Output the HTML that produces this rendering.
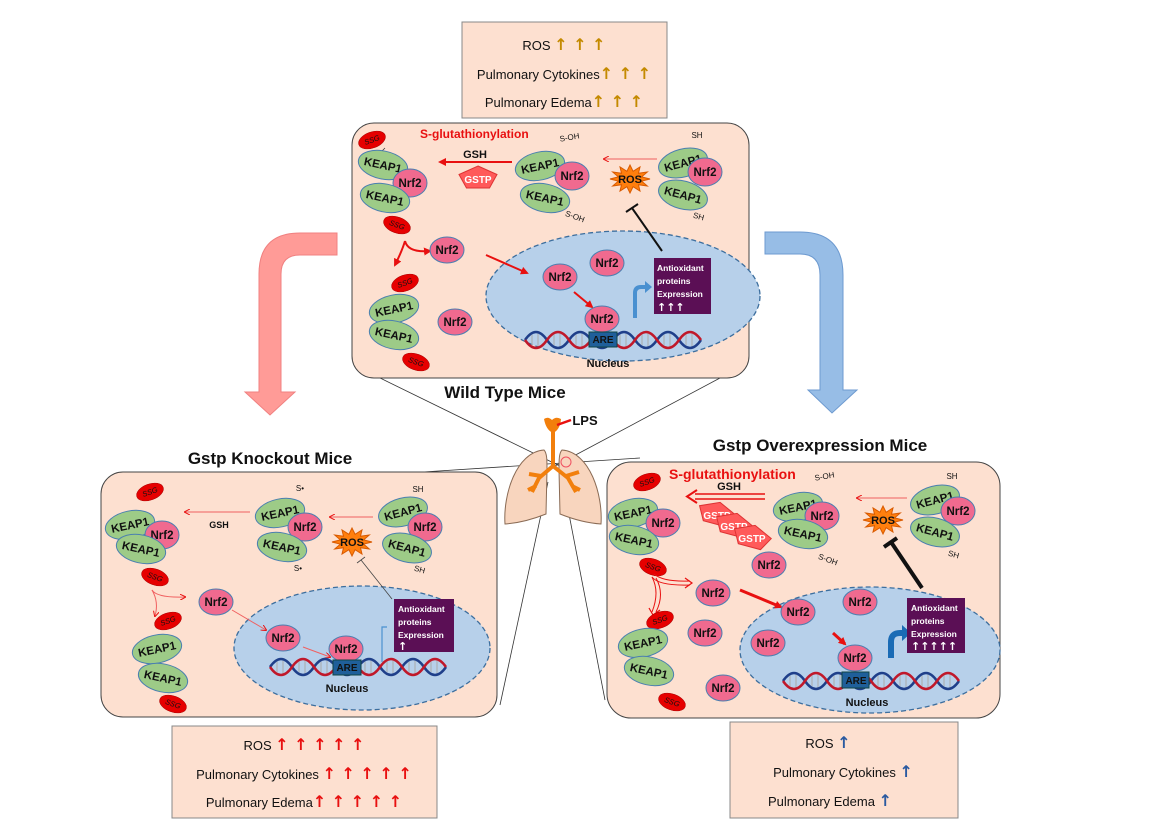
<!DOCTYPE html>
<html><head><meta charset="utf-8"><style>
html,body{margin:0;padding:0;background:#fff}
svg{display:block;font-family:"Liberation Sans",sans-serif}
.k{fill:#9dcb87;stroke:#4a7fb0;stroke-width:1}
.n{fill:#f06a8f;stroke:#4a7fb0;stroke-width:1}
.s{fill:#e60000;stroke:#a00;stroke-width:.5}
.kt{font-size:11.5px;font-weight:bold;fill:#111;text-anchor:middle}
.nt{font-size:11.5px;font-weight:bold;fill:#111;text-anchor:middle}
.st{font-size:7.5px;font-style:italic;fill:#111;text-anchor:middle}
.lbl{font-size:8px;fill:#111;text-anchor:middle}
.pan{fill:#fde0d0;stroke:#444;stroke-width:1}
.nuc{fill:#b7d0ea;stroke:#3c6e9e;stroke-width:1.3;stroke-dasharray:5 3}
.pt{font-size:8.5px;font-weight:bold;fill:#fff}
.pa{font-family:"DejaVu Sans",sans-serif;font-size:11px;font-weight:bold;fill:#fff}
.box{fill:#fde0d0;stroke:#888;stroke-width:1}
.bt{font-size:13px;fill:#111;text-anchor:middle}
.ua{font-family:"DejaVu Sans",sans-serif;font-size:16px;font-weight:bold}
.ttl{font-size:17px;font-weight:bold;fill:#111;text-anchor:middle}
</style></head><body>
<svg width="1165" height="837" viewBox="0 0 1165 837" xmlns="http://www.w3.org/2000/svg">
<defs>
<marker id="ar" markerWidth="8" markerHeight="8" refX="6" refY="4" orient="auto" markerUnits="userSpaceOnUse"><path d="M0,0 L8,4 L0,8Z" fill="#e81010"/></marker>
<marker id="ars" markerWidth="6" markerHeight="6" refX="5" refY="3" orient="auto" markerUnits="userSpaceOnUse"><path d="M0,0 L6,3 L0,6" fill="none" stroke="#e81010"/></marker>
<g id="star"><polygon points="20,0 11.6,2.1 17.3,7 8.5,5.7 10,12.1 3.1,7.7 0,14 -3.1,7.7 -10,12.1 -8.5,5.7 -17.3,7 -11.6,2.1 -20,0 -11.6,-2.1 -17.3,-7 -8.5,-5.7 -10,-12.1 -3.1,-7.7 0,-14 3.1,-7.7 10,-12.1 8.5,-5.7 17.3,-7 11.6,-2.1" fill="#ff7f0e" stroke="#d85a00"/></g>
<g id="pent"><polygon points="0,-12 19,-3.5 11.5,10 -11.5,10 -19,-3.5" fill="#ff5a5a" stroke="#d33"/></g>
<g id="dna">
<path d="M0,10 Q11,-6 22,10 T44,10 T66,10 T88,10 T110,10 T132,10 T154,10 T176,10" fill="none" stroke="#1f3f8a" stroke-width="2.5"/>
<path d="M0,10 Q11,26 22,10 T44,10 T66,10 T88,10 T110,10 T132,10 T154,10 T176,10" fill="none" stroke="#c0182a" stroke-width="2.5"/>
<path d="M7,5v10M13,4v12M29,5v10M35,4v12M51,5v10M57,4v12M73,5v10M79,4v12M95,5v10M101,4v12M117,5v10M123,4v12M139,5v10M145,4v12M161,5v10M167,4v12" stroke="#aaa" stroke-width="1"/>
</g>
</defs>

<!-- big arrows -->
<path d="M337,233 L300,233 Q259,233 259,274 L259,392 L245,392 L270,415 L295,392 L281,392 L281,274 Q281,255 300,255 L337,255Z" fill="#ff9b97" stroke="#f08080"/>
<path d="M765,232 L800,232 Q843,232 843,275 L843,390 L857,390 L832,413 L808,390 L820,390 L820,275 Q820,254 800,254 L765,254Z" fill="#97bde6" stroke="#6d9ad0"/>

<!-- connecting lines -->
<g stroke="#333" stroke-width="0.8" fill="none">
<line x1="380" y1="378" x2="568" y2="470"/>
<line x1="720" y1="378" x2="553" y2="467"/>
<line x1="423" y1="472" x2="640" y2="458"/>
<line x1="548" y1="482" x2="500" y2="705"/>
<line x1="562" y1="478" x2="605" y2="700"/>
</g>

<!-- top summary -->
<rect class="box" x="462" y="22" width="205" height="96"/>
<text class="bt" x="564" y="50">ROS <tspan class="ua" fill="#c48a00">↑ ↑ ↑</tspan></text>
<text class="bt" x="564" y="79">Pulmonary Cytokines<tspan class="ua" fill="#c48a00">↑ ↑ ↑</tspan></text>
<text class="bt" x="564" y="107">Pulmonary Edema<tspan class="ua" fill="#c48a00">↑ ↑ ↑</tspan></text>

<!-- TOP PANEL -->
<g transform="translate(352,123)">
<rect class="pan" x="0" y="0" width="397" height="255" rx="22"/>
<text x="68" y="15" font-size="12" font-weight="bold" fill="#e81010">S-glutathionylation</text>
<line x1="33" y1="25" x2="28" y2="30" stroke="#333" stroke-width=".7"/>
<g transform="translate(20,17) rotate(-20)"><ellipse class="s" rx="14" ry="8"/><text class="st" dy="2.5">SSG</text></g>
<g transform="translate(31,42) rotate(12)"><ellipse class="k" rx="25" ry="14"/><text class="kt" dy="4">KEAP1</text></g>
<g transform="translate(58,60)"><ellipse class="n" rx="17" ry="14"/><text class="nt" dy="4">Nrf2</text></g>
<g transform="translate(33,75) rotate(12)"><ellipse class="k" rx="25" ry="14"/><text class="kt" dy="4">KEAP1</text></g>
<g transform="translate(45,102) rotate(20)"><ellipse class="s" rx="14" ry="8"/><text class="st" dy="2.5">SSG</text></g>
<text x="123" y="35" font-size="11" font-weight="bold" fill="#111" text-anchor="middle">GSH</text>
<line x1="160" y1="39" x2="88" y2="39" stroke="#e81010" stroke-width="2" marker-end="url(#ar)"/>
<use href="#pent" transform="translate(126,55)"/>
<text x="126" y="60" font-size="10" font-weight="bold" fill="#fff" text-anchor="middle">GSTP</text>
<g transform="translate(188,43) rotate(-12)"><ellipse class="k" rx="25" ry="14"/><text class="kt" dy="4">KEAP1</text></g>
<g transform="translate(220,53)"><ellipse class="n" rx="17" ry="14"/><text class="nt" dy="4">Nrf2</text></g>
<g transform="translate(193,75) rotate(12)"><ellipse class="k" rx="25" ry="14"/><text class="kt" dy="4">KEAP1</text></g>
<text class="lbl" x="218" y="17" transform="rotate(-10 218 17)">S-OH</text>
<text class="lbl" x="222" y="96" transform="rotate(20 222 96)">S-OH</text>
<line x1="305" y1="36" x2="252" y2="36" stroke="#f06060" stroke-width="1" marker-end="url(#ars)"/>
<use href="#star" transform="translate(278,56)"/>
<text x="278" y="60" font-size="11" font-weight="bold" fill="#111" text-anchor="middle">ROS</text>
<g transform="translate(331,40) rotate(-15)"><ellipse class="k" rx="25" ry="14"/><text class="kt" dy="4">KEAP1</text></g>
<g transform="translate(353,49)"><ellipse class="n" rx="17" ry="14"/><text class="nt" dy="4">Nrf2</text></g>
<g transform="translate(331,72) rotate(15)"><ellipse class="k" rx="25" ry="14"/><text class="kt" dy="4">KEAP1</text></g>
<text class="lbl" x="345" y="15">SH</text>
<text class="lbl" x="346" y="96" transform="rotate(15 346 96)">SH</text>
<path d="M53,118 Q56,130 78,128" fill="none" stroke="#e81010" stroke-width="2" marker-end="url(#ar)"/>
<path d="M53,118 Q50,128 43,142" fill="none" stroke="#e81010" stroke-width="2" marker-end="url(#ar)"/>
<g transform="translate(95,127)"><ellipse class="n" rx="17" ry="13"/><text class="nt" dy="4">Nrf2</text></g>
<g transform="translate(103,199)"><ellipse class="n" rx="17" ry="13"/><text class="nt" dy="4">Nrf2</text></g>
<g transform="translate(53,160) rotate(-20)"><ellipse class="s" rx="14" ry="8"/><text class="st" dy="2.5">SSG</text></g>
<g transform="translate(42,186) rotate(-12)"><ellipse class="k" rx="25" ry="14"/><text class="kt" dy="4">KEAP1</text></g>
<g transform="translate(42,212) rotate(12)"><ellipse class="k" rx="25" ry="14"/><text class="kt" dy="4">KEAP1</text></g>
<g transform="translate(64,239) rotate(20)"><ellipse class="s" rx="14" ry="8"/><text class="st" dy="2.5">SSG</text></g>
<ellipse class="nuc" cx="271" cy="173" rx="137" ry="65"/>
<path d="M310,128 L280,85" stroke="#111" stroke-width="2"/>
<path d="M274,89 L286,81" stroke="#111" stroke-width="2"/>
<line x1="134" y1="132" x2="175" y2="150" stroke="#e81010" stroke-width="2" marker-end="url(#ar)"/>
<line x1="222" y1="169" x2="240" y2="184" stroke="#e81010" stroke-width="2" marker-end="url(#ar)"/>
<g transform="translate(208,154)"><ellipse class="n" rx="17" ry="13"/><text class="nt" dy="4">Nrf2</text></g>
<g transform="translate(255,140)"><ellipse class="n" rx="17" ry="13"/><text class="nt" dy="4">Nrf2</text></g>
<use href="#dna" transform="translate(173,207)"/>
<g transform="translate(250,196)"><ellipse class="n" rx="17" ry="13"/><text class="nt" dy="4">Nrf2</text></g>
<rect x="237" y="209" width="28" height="15" fill="#1f5f9a" stroke="#144"/>
<text x="251" y="220" font-size="10" font-weight="bold" fill="#111" text-anchor="middle">ARE</text>
<text x="256" y="244" font-size="11" font-weight="bold" fill="#111" text-anchor="middle">Nucleus</text>
<path d="M283,195 L283,170 Q283,164 289,164 L293,164" fill="none" stroke="#4a90d0" stroke-width="4"/>
<path d="M293,158 L300,164 L293,170Z" fill="#4a90d0"/>
<rect x="302" y="135" width="57" height="56" fill="#5b0f55"/>
<text class="pt" x="305" y="148">Antioxidant</text>
<text class="pt" x="305" y="161">proteins</text>
<text class="pt" x="305" y="174">Expression</text>
<text class="pa" x="305" y="188">↑↑↑</text>
</g>

<text class="ttl" x="505" y="398">Wild Type Mice</text>

<!-- lung -->
<path d="M544,450 C516,452 503,495 505,524 C520,523 536,518 546,514 L547,470 C547,460 547,453 544,450Z" fill="#f8d5be" stroke="#8a6b55" stroke-width="1"/>
<path d="M562,450 C590,452 603,495 601,524 C586,523 570,518 560,514 L559,470 C559,460 559,453 562,450Z" fill="#f8d5be" stroke="#8a6b55" stroke-width="1"/>
<path d="M553,430 L553,466 L539,478 L532,492 M553,466 L568,478 L576,492 M541,476 L529,474 M566,476 L579,472 M536,486 L528,490 M572,486 L580,490" fill="none" stroke="#f27f0c" stroke-width="4" stroke-linejoin="round"/>
<path d="M544,419 Q546,430 553,433 Q560,430 561,419 Q556,416 552,420 Q548,416 544,419Z" fill="#f27f0c"/>
<circle cx="566" cy="462" r="5" fill="none" stroke="#f05060" stroke-width="1"/>
<line x1="571" y1="420" x2="557" y2="425" stroke="#e81010" stroke-width="2.5"/>
<text x="585" y="425" font-size="13" font-weight="bold" fill="#111" text-anchor="middle">LPS</text>

<!-- BOTTOM LEFT -->
<text class="ttl" x="270" y="464">Gstp Knockout Mice</text>
<g transform="translate(101,472)">
<rect class="pan" x="0" y="0" width="396" height="245" rx="22"/>
<g transform="translate(49,20) rotate(-20)"><ellipse class="s" rx="14" ry="8"/><text class="st" dy="2.5">SSG</text></g>
<g transform="translate(29,53) rotate(-12)"><ellipse class="k" rx="25" ry="14"/><text class="kt" dy="4">KEAP1</text></g>
<g transform="translate(61,63)"><ellipse class="n" rx="17" ry="14"/><text class="nt" dy="4">Nrf2</text></g>
<g transform="translate(40,77) rotate(12)"><ellipse class="k" rx="25" ry="14"/><text class="kt" dy="4">KEAP1</text></g>
<g transform="translate(54,105) rotate(20)"><ellipse class="s" rx="14" ry="8"/><text class="st" dy="2.5">SSG</text></g>
<line x1="149" y1="40" x2="84" y2="40" stroke="#f06060" stroke-width="1" marker-end="url(#ars)"/>
<text x="118" y="56" font-size="9" font-weight="bold" fill="#111" text-anchor="middle">GSH</text>
<g transform="translate(179,41) rotate(-12)"><ellipse class="k" rx="25" ry="14"/><text class="kt" dy="4">KEAP1</text></g>
<g transform="translate(204,55)"><ellipse class="n" rx="17" ry="14"/><text class="nt" dy="4">Nrf2</text></g>
<g transform="translate(181,75) rotate(12)"><ellipse class="k" rx="25" ry="14"/><text class="kt" dy="4">KEAP1</text></g>
<text class="lbl" x="199" y="19">S•</text>
<text class="lbl" x="197" y="99">S•</text>
<line x1="272" y1="45" x2="229" y2="45" stroke="#f06060" stroke-width="1" marker-end="url(#ars)"/>
<use href="#star" transform="translate(251,70)"/>
<text x="251" y="74" font-size="11" font-weight="bold" fill="#111" text-anchor="middle">ROS</text>
<g transform="translate(302,40) rotate(-15)"><ellipse class="k" rx="25" ry="14"/><text class="kt" dy="4">KEAP1</text></g>
<g transform="translate(324,55)"><ellipse class="n" rx="17" ry="14"/><text class="nt" dy="4">Nrf2</text></g>
<g transform="translate(306,76) rotate(15)"><ellipse class="k" rx="25" ry="14"/><text class="kt" dy="4">KEAP1</text></g>
<text class="lbl" x="317" y="20">SH</text>
<text class="lbl" x="318" y="100" transform="rotate(15 318 100)">SH</text>
<path d="M51,118 Q56,126 84,125" fill="none" stroke="#f06060" stroke-width="1" marker-end="url(#ars)"/>
<path d="M51,118 Q58,130 54,144" fill="none" stroke="#f06060" stroke-width="1" marker-end="url(#ars)"/>
<g transform="translate(115,130)"><ellipse class="n" rx="17" ry="13"/><text class="nt" dy="4">Nrf2</text></g>
<g transform="translate(67,149) rotate(-20)"><ellipse class="s" rx="14" ry="8"/><text class="st" dy="2.5">SSG</text></g>
<g transform="translate(56,177) rotate(-12)"><ellipse class="k" rx="25" ry="14"/><text class="kt" dy="4">KEAP1</text></g>
<g transform="translate(62,206) rotate(12)"><ellipse class="k" rx="25" ry="14"/><text class="kt" dy="4">KEAP1</text></g>
<g transform="translate(72,232) rotate(20)"><ellipse class="s" rx="14" ry="8"/><text class="st" dy="2.5">SSG</text></g>
<ellipse class="nuc" cx="261" cy="176" rx="128" ry="62"/>
<path d="M291,127 L260,88" stroke="#444" stroke-width="0.8"/>
<path d="M256,91 L264,85" stroke="#444" stroke-width="0.8"/>
<line x1="131" y1="138" x2="165" y2="158" stroke="#f06060" stroke-width="1" marker-end="url(#ars)"/>
<line x1="202" y1="175" x2="229" y2="185" stroke="#f06060" stroke-width="1" marker-end="url(#ars)"/>
<g transform="translate(182,166)"><ellipse class="n" rx="17" ry="13"/><text class="nt" dy="4">Nrf2</text></g>
<use href="#dna" transform="translate(169,185)"/>
<g transform="translate(245,177)"><ellipse class="n" rx="17" ry="13"/><text class="nt" dy="4">Nrf2</text></g>
<rect x="232" y="188" width="28" height="15" fill="#1f5f9a" stroke="#144"/>
<text x="246" y="199" font-size="10" font-weight="bold" fill="#111" text-anchor="middle">ARE</text>
<text x="246" y="220" font-size="11" font-weight="bold" fill="#111" text-anchor="middle">Nucleus</text>
<path d="M281,190 L281,155 L286,155" fill="none" stroke="#4a90d0" stroke-width="1.2"/>
<rect x="293" y="127" width="60" height="53" fill="#5b0f55"/>
<text class="pt" x="297" y="140">Antioxidant</text>
<text class="pt" x="297" y="153">proteins</text>
<text class="pt" x="297" y="166">Expression</text>
<text class="pa" x="297" y="178">↑</text>
</g>

<!-- BOTTOM RIGHT -->
<text class="ttl" x="820" y="451">Gstp Overexpression Mice</text>
<g transform="translate(607,462)">
<rect class="pan" x="0" y="0" width="393" height="256" rx="24"/>
<text x="62" y="17" font-size="14" font-weight="bold" fill="#e81010">S-glutathionylation</text>
<g transform="translate(40,20) rotate(-20)"><ellipse class="s" rx="14" ry="8"/><text class="st" dy="2.5">SSG</text></g>
<g transform="translate(26,51) rotate(-12)"><ellipse class="k" rx="25" ry="14"/><text class="kt" dy="4">KEAP1</text></g>
<g transform="translate(56,61)"><ellipse class="n" rx="17" ry="14"/><text class="nt" dy="4">Nrf2</text></g>
<g transform="translate(27,78) rotate(12)"><ellipse class="k" rx="25" ry="14"/><text class="kt" dy="4">KEAP1</text></g>
<g transform="translate(46,105) rotate(20)"><ellipse class="s" rx="14" ry="8"/><text class="st" dy="2.5">SSG</text></g>
<text x="122" y="28" font-size="11" font-weight="bold" fill="#111" text-anchor="middle">GSH</text>
<line x1="158" y1="32" x2="88" y2="32" stroke="#e81010" stroke-width="1.5"/>
<line x1="158" y1="37" x2="88" y2="37" stroke="#e81010" stroke-width="1.5"/>
<path d="M90,28 L80,34.5 L90,41" fill="none" stroke="#e81010" stroke-width="2"/>
<use href="#pent" transform="translate(110,52) rotate(15)"/>
<text x="110" y="57" font-size="10" font-weight="bold" fill="#fff" text-anchor="middle">GSTP</text>
<use href="#pent" transform="translate(127,63) rotate(15)"/>
<text x="127" y="68" font-size="10" font-weight="bold" fill="#fff" text-anchor="middle">GSTP</text>
<use href="#pent" transform="translate(145,75) rotate(15)"/>
<text x="145" y="80" font-size="10" font-weight="bold" fill="#fff" text-anchor="middle">GSTP</text>
<g transform="translate(191,45) rotate(-12)"><ellipse class="k" rx="25" ry="14"/><text class="kt" dy="4">KEAP1</text></g>
<g transform="translate(215,54)"><ellipse class="n" rx="17" ry="14"/><text class="nt" dy="4">Nrf2</text></g>
<g transform="translate(196,72) rotate(12)"><ellipse class="k" rx="25" ry="14"/><text class="kt" dy="4">KEAP1</text></g>
<text class="lbl" x="218" y="17" transform="rotate(-10 218 17)">S-OH</text>
<text class="lbl" x="220" y="100" transform="rotate(20 220 100)">S-OH</text>
<line x1="300" y1="36" x2="250" y2="36" stroke="#f06060" stroke-width="1" marker-end="url(#ars)"/>
<use href="#star" transform="translate(276,58)"/>
<text x="276" y="62" font-size="11" font-weight="bold" fill="#111" text-anchor="middle">ROS</text>
<g transform="translate(328,38) rotate(-15)"><ellipse class="k" rx="25" ry="14"/><text class="kt" dy="4">KEAP1</text></g>
<g transform="translate(351,49)"><ellipse class="n" rx="17" ry="14"/><text class="nt" dy="4">Nrf2</text></g>
<g transform="translate(328,70) rotate(15)"><ellipse class="k" rx="25" ry="14"/><text class="kt" dy="4">KEAP1</text></g>
<text class="lbl" x="345" y="17">SH</text>
<text class="lbl" x="346" y="95" transform="rotate(15 346 95)">SH</text>
<path d="M45,115 Q52,124 83,123" fill="none" stroke="#e81010" stroke-width="1"/>
<path d="M47,112 Q56,120 83,119" fill="none" stroke="#e81010" stroke-width="1"/>
<path d="M78,116 L85,121 L78,126" fill="none" stroke="#e81010" stroke-width="1.2"/>
<path d="M45,115 Q53,130 45,150" fill="none" stroke="#e81010" stroke-width="1"/>
<path d="M49,116 Q58,132 49,150" fill="none" stroke="#e81010" stroke-width="1"/>
<path d="M42,146 L46,153 L53,148" fill="none" stroke="#e81010" stroke-width="1.2"/>
<g transform="translate(162,103)"><ellipse class="n" rx="17" ry="13"/><text class="nt" dy="4">Nrf2</text></g>
<g transform="translate(106,131)"><ellipse class="n" rx="17" ry="13"/><text class="nt" dy="4">Nrf2</text></g>
<g transform="translate(98,171)"><ellipse class="n" rx="17" ry="13"/><text class="nt" dy="4">Nrf2</text></g>
<g transform="translate(116,226)"><ellipse class="n" rx="17" ry="13"/><text class="nt" dy="4">Nrf2</text></g>
<g transform="translate(53,158) rotate(-20)"><ellipse class="s" rx="14" ry="8"/><text class="st" dy="2.5">SSG</text></g>
<g transform="translate(36,181) rotate(-12)"><ellipse class="k" rx="25" ry="14"/><text class="kt" dy="4">KEAP1</text></g>
<g transform="translate(42,209) rotate(12)"><ellipse class="k" rx="25" ry="14"/><text class="kt" dy="4">KEAP1</text></g>
<g transform="translate(65,240) rotate(20)"><ellipse class="s" rx="14" ry="8"/><text class="st" dy="2.5">SSG</text></g>
<ellipse class="nuc" cx="263" cy="188" rx="130" ry="63"/>
<path d="M315,126 L284,80" stroke="#111" stroke-width="4"/>
<path d="M277,85 L290,76" stroke="#111" stroke-width="4"/>
<line x1="133" y1="128" x2="174" y2="145" stroke="#e81010" stroke-width="3" marker-end="url(#ar)"/>
<line x1="226" y1="171" x2="238" y2="182" stroke="#e81010" stroke-width="3" marker-end="url(#ar)"/>
<g transform="translate(191,150)"><ellipse class="n" rx="17" ry="13"/><text class="nt" dy="4">Nrf2</text></g>
<g transform="translate(253,140)"><ellipse class="n" rx="17" ry="13"/><text class="nt" dy="4">Nrf2</text></g>
<g transform="translate(161,181)"><ellipse class="n" rx="17" ry="13"/><text class="nt" dy="4">Nrf2</text></g>
<use href="#dna" transform="translate(176,209)"/>
<g transform="translate(248,196)"><ellipse class="n" rx="17" ry="13"/><text class="nt" dy="4">Nrf2</text></g>
<rect x="235" y="210" width="27" height="16" fill="#1f5f9a" stroke="#144"/>
<text x="249" y="222" font-size="10" font-weight="bold" fill="#111" text-anchor="middle">ARE</text>
<text x="260" y="244" font-size="11" font-weight="bold" fill="#111" text-anchor="middle">Nucleus</text>
<path d="M284,196 L284,180 Q284,171 293,171 L296,171" fill="none" stroke="#1a6bb5" stroke-width="6"/>
<path d="M295,163 L304,171 L295,179Z" fill="#1a6bb5"/>
<rect x="300" y="136" width="58" height="55" fill="#5b0f55"/>
<text class="pt" x="304" y="149">Antioxidant</text>
<text class="pt" x="304" y="162">proteins</text>
<text class="pt" x="304" y="175">Expression</text>
<text class="pa" x="304" y="188">↑↑↑↑↑</text>
</g>

<!-- bottom summaries -->
<rect class="box" x="172" y="726" width="265" height="92"/>
<text class="bt" x="304" y="750">ROS <tspan class="ua" fill="#e81010">↑ ↑ ↑ ↑ ↑</tspan></text>
<text class="bt" x="304" y="779">Pulmonary Cytokines <tspan class="ua" fill="#e81010">↑ ↑ ↑ ↑ ↑</tspan></text>
<text class="bt" x="304" y="807">Pulmonary Edema<tspan class="ua" fill="#e81010">↑ ↑ ↑ ↑ ↑</tspan></text>

<rect class="box" x="730" y="722" width="228" height="96"/>
<text class="bt" x="828" y="748">ROS <tspan class="ua" fill="#2a5aa0">↑</tspan></text>
<text class="bt" x="843" y="777">Pulmonary Cytokines <tspan class="ua" fill="#2a5aa0">↑</tspan></text>
<text class="bt" x="830" y="806">Pulmonary Edema <tspan class="ua" fill="#2a5aa0">↑</tspan></text>
</svg>
</body></html>
